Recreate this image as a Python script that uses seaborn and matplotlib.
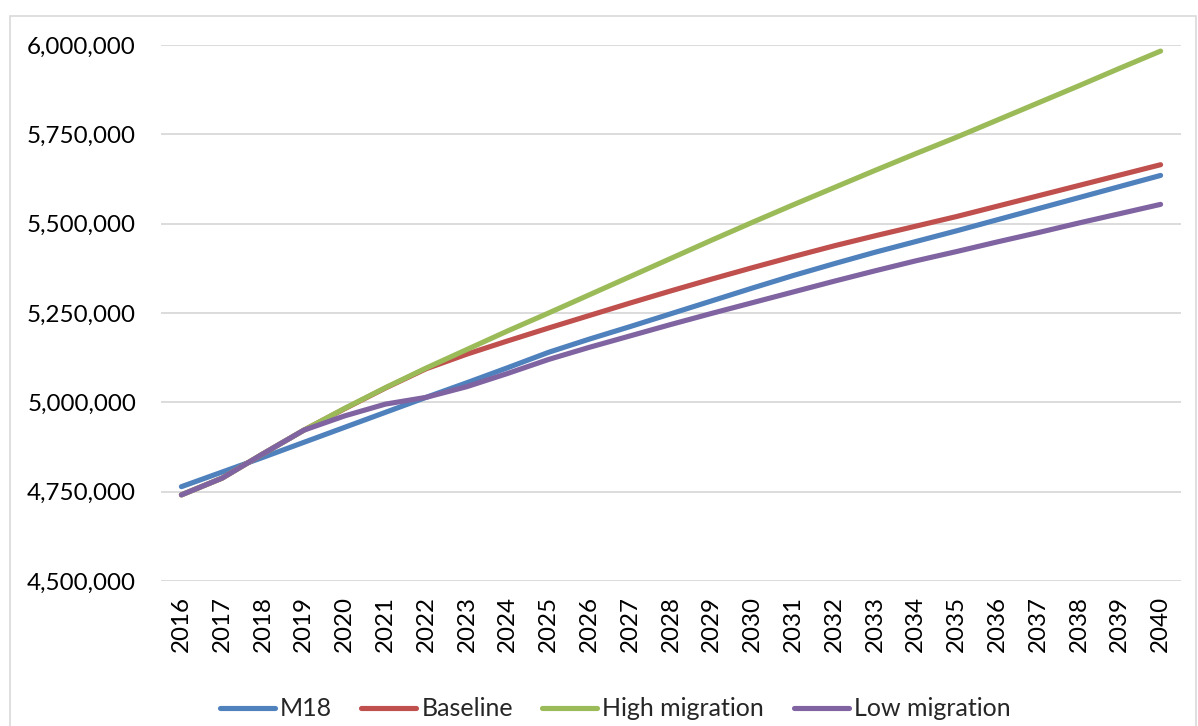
import matplotlib
matplotlib.use("Agg")
import matplotlib.pyplot as plt
import matplotlib.ticker as mticker
from matplotlib.patches import Rectangle
from matplotlib.lines import Line2D
import seaborn as sns
import pandas as pd

years = list(range(2016, 2041))
m18 = [4764000, 4805000, 4846000, 4888000, 4930000, 4972000, 5014000, 5055000, 5097000, 5140000,
       5177000, 5212000, 5248000, 5284000, 5320000, 5355000, 5388000, 5420000, 5450000, 5480000,
       5511000, 5542000, 5573000, 5604000, 5635000]
baseline = [4741000, 4788000, 4856000, 4922000, 4982000, 5040000, 5094000, 5135000, 5172000, 5208000,
            5243000, 5278000, 5312000, 5345000, 5377000, 5408000, 5438000, 5466000, 5493000, 5520000,
            5549000, 5578000, 5607000, 5636000, 5665000]
high_migration = [4741000, 4788000, 4856000, 4922000, 4983000, 5041000, 5096000, 5148000, 5200000, 5250000,
                  5301000, 5352000, 5403000, 5454000, 5504000, 5553000, 5601000, 5649000, 5696000, 5742000,
                  5790000, 5838000, 5886000, 5935000, 5983000]
low_migration = [4741000, 4788000, 4856000, 4922000, 4962000, 4995000, 5014000, 5044000, 5081000, 5120000,
                 5154000, 5186000, 5218000, 5249000, 5279000, 5309000, 5339000, 5368000, 5396000, 5422000,
                 5449000, 5475000, 5502000, 5528000, 5554000]
series_names = ["M18", "Baseline", "High migration", "Low migration"]
colors = ["#4F81BD", "#C0504D", "#9BBB59", "#8064A2"]
y_ticks = [4500000, 4750000, 5000000, 5250000, 5500000, 5750000, 6000000]

frames = []
for name, vals in zip(series_names, [m18, baseline, high_migration, low_migration]):
    frames.append(pd.DataFrame({"Year": years, "Population": vals, "Scenario": name}))
df = pd.concat(frames, ignore_index=True)

sns.set_theme(style="white")
plt.rcParams['font.family'] = ['Lato', 'DejaVu Sans']

W, H = 1198, 726
fig = plt.figure(figsize=(W / 100, H / 100), dpi=100)
ax = fig.add_axes([161 / W, 1 - 581 / H, (1181 - 161) / W, (581 - 45) / H])

fig.patches.append(Rectangle((10 / W, -0.01), (1196 - 10) / W, 1 - 16 / H + 0.01,
                             transform=fig.transFigure, fill=False,
                             edgecolor="#D9D9D9", linewidth=1.2, zorder=0))

LW = 3.7
sns.lineplot(data=df, x="Year", y="Population", hue="Scenario", hue_order=series_names,
             palette=colors, linewidth=LW, ax=ax, legend=False,
             solid_capstyle="round", solid_joinstyle="round")

ax.set_xlim(2015.5, 2040.5)
ax.set_ylim(4500000, 6000000)
ax.set_yticks(y_ticks)
ax.yaxis.set_major_formatter(mticker.FuncFormatter(lambda v, p: f"{int(v):,}"))
ax.set_xticks(years)
ax.set_xticklabels([str(y) for y in years], rotation=90)
ax.tick_params(axis="y", labelsize=17.4, pad=18, length=0, colors="black")
ax.tick_params(axis="x", labelsize=17.4, pad=11, length=0, colors="black")
ax.grid(axis="y", color="#D9D9D9", linewidth=1.3)
ax.grid(axis="x", visible=False)
for s in ["top", "right", "left", "bottom"]:
    ax.spines[s].set_visible(False)
ax.set_xlabel("")
ax.set_ylabel("")

handles = [Line2D([0], [0], color=c, linewidth=LW, solid_capstyle="round") for c in colors]
fig.legend(handles, series_names, loc="center", bbox_to_anchor=(615 / W, 1 - 709 / H),
           ncol=4, frameon=False, fontsize=18, handlelength=2.2, handletextpad=0.2,
           columnspacing=1.18)

fig.savefig("out.png", dpi=100)
